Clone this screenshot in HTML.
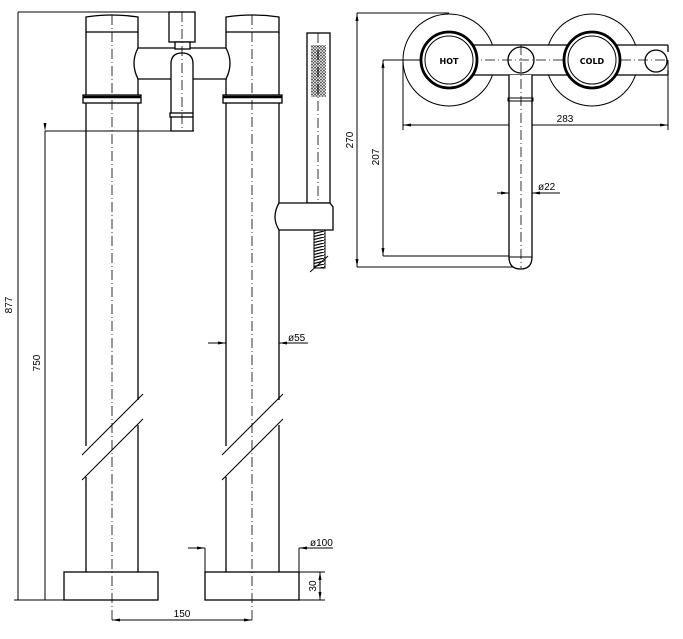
<!DOCTYPE html>
<html><head><meta charset="utf-8"><style>
html,body{margin:0;padding:0;background:#fff;}
svg{display:block;}
text{font-family:"Liberation Sans",sans-serif;font-size:10px;fill:#000;}
</style></head><body>
<svg width="683" height="639" viewBox="0 0 683 639" xmlns="http://www.w3.org/2000/svg">
<defs>
<marker id="a" markerWidth="8" markerHeight="6" refX="8" refY="3" orient="auto" markerUnits="userSpaceOnUse"><path d="M0,1.5 L8,3 L0,4.5 Z" fill="#000"/></marker>
<pattern id="d" width="3" height="3" patternUnits="userSpaceOnUse"><circle cx="1.5" cy="1.5" r="1" fill="none" stroke="#000" stroke-width="0.6"/></pattern>
<pattern id="h" width="12" height="3" patternUnits="userSpaceOnUse"><line x1="0" y1="3" x2="12" y2="0" stroke="#000" stroke-width="1.2"/></pattern>
</defs>
<g stroke="#000" fill="none" stroke-width="1">
<g stroke-dasharray="10,3,1,3" stroke-width="0.8">
<line x1="112" y1="15" x2="112" y2="620"/>
<line x1="252" y1="15" x2="252" y2="620"/>
</g>
<line x1="18" y1="12" x2="182" y2="12"/>
<line x1="18" y1="12" x2="18" y2="600"/>
<line x1="45" y1="131" x2="194" y2="131"/>
<line x1="45" y1="131" x2="45" y2="600" marker-start="url(#a)" />
<line x1="14" y1="600" x2="64" y2="600"/>
<!-- left pipe -->
<path d="M86,32 L86,17 Q112,13 138,17 L138,32 Z" stroke-width="1.3"/>
<line x1="86" y1="32" x2="86" y2="95" stroke-width="1.3"/>
<line x1="138" y1="32" x2="138" y2="95" stroke-width="1.3"/>
<rect x="83" y="95" width="58" height="8" stroke-width="1.3"/>
<line x1="83" y1="97" x2="141" y2="97" stroke-width="2.5"/>
<line x1="86" y1="103" x2="86" y2="446" stroke-width="1.3"/>
<line x1="138" y1="103" x2="138" y2="400" stroke-width="1.3"/>
<line x1="86" y1="477" x2="86" y2="572" stroke-width="1.3"/>
<line x1="138" y1="425" x2="138" y2="572" stroke-width="1.3"/>
<line x1="82" y1="455" x2="143" y2="394"/>
<line x1="82" y1="480" x2="143" y2="419"/>
<rect x="64" y="572" width="94" height="28" stroke-width="1.3"/>
<!-- right pipe -->
<path d="M226,32 L226,17 Q252,13 279,17 L279,32 Z" stroke-width="1.3"/>
<line x1="226" y1="32" x2="226" y2="95" stroke-width="1.3"/>
<line x1="279" y1="32" x2="279" y2="95" stroke-width="1.3"/>
<rect x="223" y="95" width="59" height="8" stroke-width="1.3"/>
<line x1="223" y1="97" x2="282" y2="97" stroke-width="2.5"/>
<line x1="226" y1="103" x2="226" y2="446" stroke-width="1.3"/>
<line x1="279" y1="103" x2="279" y2="203" stroke-width="1.3"/>
<line x1="279" y1="230" x2="279" y2="400" stroke-width="1.3"/>
<line x1="226" y1="477" x2="226" y2="572" stroke-width="1.3"/>
<line x1="279" y1="425" x2="279" y2="572" stroke-width="1.3"/>
<line x1="222" y1="455" x2="283" y2="394"/>
<line x1="222" y1="480" x2="283" y2="419"/>
<rect x="205" y="572" width="94" height="28" stroke-width="1.3"/>
<!-- mixer body -->
<path d="M138,48 L226,48 Q234,63 226,79 L138,79 Q130,63 138,48 Z" stroke-width="1.3" fill="#fff"/>
<rect x="169" y="12" width="26" height="30" stroke-width="1.3" fill="#fff"/>
<rect x="175" y="42" width="15" height="7" stroke-width="1.3" fill="#fff"/>
<path d="M171,113 L171,64 Q171,53 182,53 Q193,53 193,64 L193,113" stroke-width="1.3" fill="#fff"/>
<rect x="170" y="113" width="23" height="4" stroke-width="1.3" fill="#fff"/>
<path d="M171,117 L171,131 L193,131 L193,117" stroke-width="1.3"/>
<line x1="182" y1="12" x2="182" y2="131" stroke-dasharray="10,3,1,3" stroke-width="0.8"/>
<!-- hand shower -->
<rect x="307" y="33" width="23" height="170" stroke-width="1.3" fill="#fff"/>
<path d="M279,203 L330,203 L333,207 L333,230 L279,230 Q271,217 279,203 Z" stroke-width="1.3" fill="#fff"/>
<rect x="314" y="230" width="11" height="38" fill="url(#h)" stroke-width="1"/>
<line x1="310" y1="272" x2="328" y2="256"/>
<line x1="318" y1="33" x2="318" y2="203" stroke-dasharray="10,3,1,3" stroke-width="0.8"/>
<!-- dims lower -->
<line x1="208" y1="343" x2="226" y2="343" marker-end="url(#a)"/>
<line x1="308" y1="343" x2="279" y2="343" marker-end="url(#a)"/>
<line x1="188" y1="548" x2="205" y2="548" marker-end="url(#a)"/>
<line x1="333" y1="548" x2="299" y2="548" marker-end="url(#a)"/>
<line x1="205" y1="548" x2="205" y2="572"/>
<line x1="299" y1="548" x2="299" y2="572"/>
<line x1="299" y1="572" x2="325" y2="572"/>
<line x1="299" y1="600" x2="325" y2="600"/>
<line x1="320" y1="586" x2="320" y2="572" marker-end="url(#a)"/>
<line x1="320" y1="586" x2="320" y2="600" marker-end="url(#a)"/>
<line x1="182" y1="620" x2="112" y2="620" marker-end="url(#a)"/>
<line x1="182" y1="620" x2="252" y2="620" marker-end="url(#a)"/>
<!-- right view -->
<line x1="357" y1="13" x2="449" y2="13"/>
<line x1="357" y1="267" x2="521" y2="267"/>
<line x1="357" y1="140" x2="357" y2="13" marker-end="url(#a)"/>
<line x1="357" y1="140" x2="357" y2="267" marker-end="url(#a)"/>
<line x1="383" y1="60" x2="449" y2="60"/>
<line x1="383" y1="256" x2="509" y2="256"/>
<line x1="383" y1="157" x2="383" y2="60" marker-end="url(#a)"/>
<line x1="383" y1="157" x2="383" y2="256" marker-end="url(#a)"/>
<line x1="403" y1="60" x2="403" y2="130"/>
<line x1="668" y1="60" x2="668" y2="130"/>
<line x1="535" y1="125" x2="403" y2="125" marker-end="url(#a)"/>
<line x1="535" y1="125" x2="668" y2="125" marker-end="url(#a)"/>
<circle cx="449" cy="60" r="46"/>
<circle cx="592" cy="60" r="46"/>
<rect x="449" y="45" width="216" height="30" fill="#fff" stroke="none"/>
<line x1="449" y1="45" x2="668" y2="45" stroke-width="1.3"/>
<line x1="449" y1="75" x2="668" y2="75" stroke-width="1.3"/>
<line x1="668" y1="45" x2="668" y2="52" stroke-width="1.3"/>
<line x1="668" y1="70" x2="668" y2="75" stroke-width="1.3"/>
<line x1="400" y1="60" x2="668" y2="60" stroke-dasharray="10,3,1,3" stroke-width="0.8"/>
<circle cx="449" cy="60" r="28" stroke-width="2.8" fill="#fff"/>
<circle cx="449" cy="60" r="24"/>
<circle cx="592" cy="60" r="28" stroke-width="2.8" fill="#fff"/>
<circle cx="592" cy="60" r="24"/>
<circle cx="656" cy="61" r="11" fill="none" stroke-width="1.3"/>
<path d="M509,75 L509,257 Q509,269 520.5,269 Q532,269 532,257 L532,75" stroke-width="1.3" fill="#fff"/>
<rect x="508" y="98" width="25" height="3" stroke-width="1"/>
<line x1="509" y1="257" x2="532" y2="257"/>
<circle cx="521" cy="60" r="13" fill="none" stroke-width="1.3"/>
<line x1="521" y1="45" x2="521" y2="268" stroke-dasharray="10,3,1,3" stroke-width="0.8"/>
<line x1="497" y1="193" x2="509" y2="193" marker-end="url(#a)"/>
<line x1="560" y1="193" x2="532" y2="193" marker-end="url(#a)"/>
</g>
<rect x="311" y="45" width="15" height="52" fill="url(#d)"/>
<text x="12" y="305" transform="rotate(-90 12 305)" text-anchor="middle">877</text>
<text x="40" y="363" transform="rotate(-90 40 363)" text-anchor="middle">750</text>
<text x="288" y="341">ø55</text>
<text x="310" y="546">ø100</text>
<text x="316" y="586" transform="rotate(-90 316 586)" text-anchor="middle">30</text>
<text x="182" y="617" text-anchor="middle">150</text>
<text x="353" y="140" transform="rotate(-90 353 140)" text-anchor="middle">270</text>
<text x="379" y="157" transform="rotate(-90 379 157)" text-anchor="middle">207</text>
<text x="565" y="122" text-anchor="middle">283</text>
<text x="538" y="190">ø22</text>
<text x="449" y="64" text-anchor="middle" style="font-family:'DejaVu Sans',sans-serif;font-weight:bold;font-size:8px">HOT</text>
<text x="592" y="64" text-anchor="middle" style="font-family:'DejaVu Sans',sans-serif;font-weight:bold;font-size:8px">COLD</text>
</svg>
</body></html>
